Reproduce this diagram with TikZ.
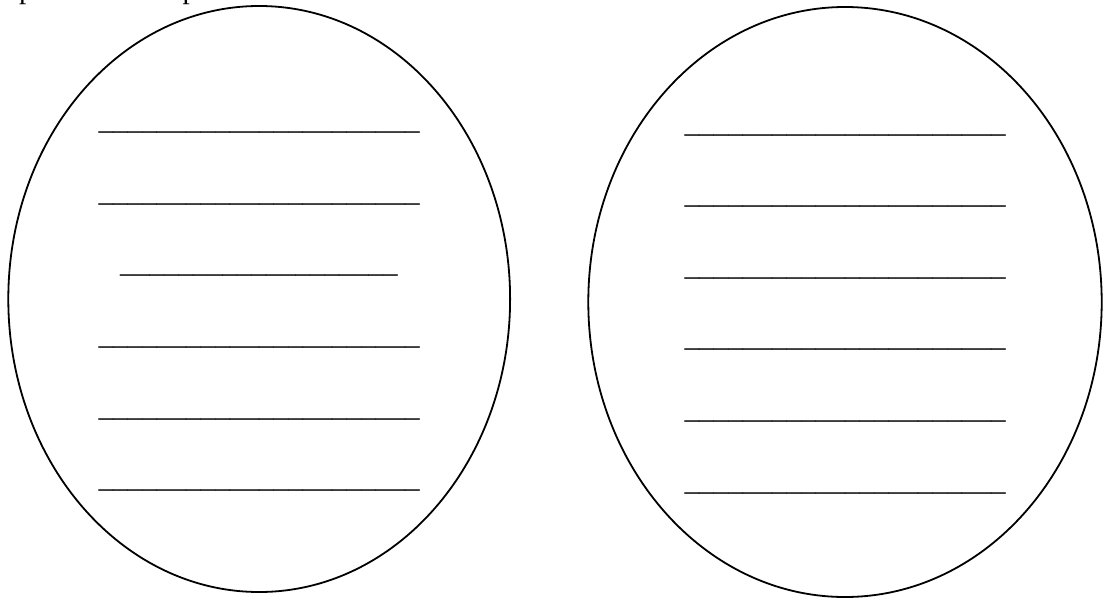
\documentclass[tikz,border=0pt]{standalone}
\usepackage{fontspec}
\setmainfont{Liberation Serif}
\usetikzlibrary{shapes.geometric}
\newcommand{\blankline}{\_\_\_\_\_\_\_\_\_\_\_\_\_\_\_\_\_\_\_\_\_\_}
\newcommand{\shortblank}{\_\_\_\_\_\_\_\_\_\_\_\_\_\_\_\_\_\_\_}
\begin{document}
\begin{tikzpicture}[x=1pt,y=-1pt,
  oval/.style={ellipse, draw, line width=1.8pt, inner sep=0pt},
  blank/.style={inner sep=0pt, anchor=base west, font=\fontsize{29.2}{32}\selectfont},
  frag/.style={inner sep=0pt, anchor=base west, font=\fontsize{29.2}{32}\selectfont}]
\useasboundingbox (0,0) rectangle (1105,597);
\clip (0,0) rectangle (1105,597);
\fill[white] (0,0) rectangle (1105,597);
% cut-off text fragments at the top edge
\node[frag] (f1) at (19,-1.5) {p};
\node[frag] (f2) at (182.5,-1.5) {p};
% ovals
\node[oval, minimum width=501.8pt, minimum height=586pt] (L) at (259.2,299) {};
\node[oval, minimum width=513.4pt, minimum height=590pt] (R) at (845,302) {};
% left blanks
\node[blank] (l1) at (98.3,129.4) {\blankline};
\node[blank] (l2) at (98.3,201.4) {\blankline};
\node[blank] (l3) at (120,272.1) {\shortblank};
\node[blank] (l4) at (98.3,344.4) {\blankline};
\node[blank] (l5) at (98.3,416.4) {\blankline};
\node[blank] (l6) at (98.3,487.8) {\blankline};
% right blanks
\node[blank] (r1) at (684.3,132.4) {\blankline};
\node[blank] (r2) at (684.3,203.8) {\blankline};
\node[blank] (r3) at (684.3,275.4) {\blankline};
\node[blank] (r4) at (684.3,346.4) {\blankline};
\node[blank] (r5) at (684.3,418.1) {\blankline};
\node[blank] (r6) at (684.3,490.4) {\blankline};
\end{tikzpicture}
\end{document}
